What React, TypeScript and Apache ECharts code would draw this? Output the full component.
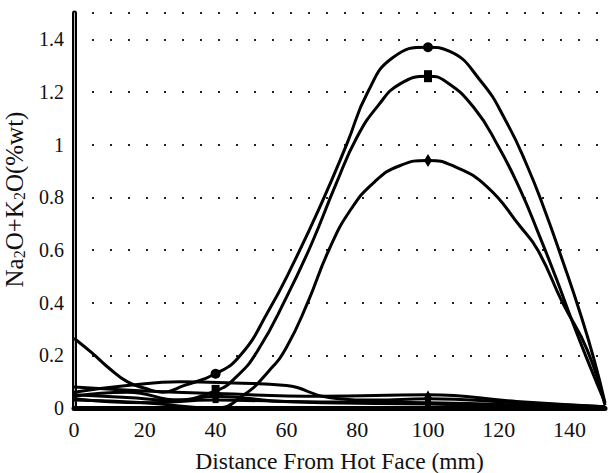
import React, { useEffect, useRef } from "react";
import * as echarts from "echarts";

// X positions (mm) and Na2O+K2O (%wt) values
const c1X = [0, 5, 10, 15, 20, 25, 31, 40, 47, 55, 62, 70, 77, 83, 90, 100, 106, 115, 122, 128, 133, 138, 143, 147, 150];
const c1Y = [0.265, 0.21, 0.15, 0.1, 0.075, 0.06, 0.085, 0.13, 0.2, 0.37, 0.55, 0.78, 1.0, 1.2, 1.33, 1.37, 1.355, 1.24, 1.09, 0.92, 0.75, 0.56, 0.36, 0.18, 0.02];

const c2X = [0, 15, 28, 40, 46, 52, 60, 67, 74, 80, 86, 92, 100, 105, 113, 120, 126, 131, 136, 141, 146, 150];
const c2Y = [0.05, 0.04, 0.03, 0.065, 0.12, 0.22, 0.42, 0.62, 0.85, 1.03, 1.15, 1.23, 1.26, 1.24, 1.14, 0.99, 0.83, 0.67, 0.5, 0.32, 0.15, 0.02];

const c3X = [0, 20, 40, 48, 55, 60, 66, 72, 78, 85, 92, 100, 107, 116.7, 126, 131, 138, 145, 150];
const c3Y = [0.03, 0.02, 0.0, 0.05, 0.14, 0.23, 0.4, 0.6, 0.75, 0.86, 0.92, 0.94, 0.92, 0.84, 0.69, 0.6, 0.4, 0.22, 0.01];

const hX = [0, 15, 30, 45, 60, 72, 85, 100, 125, 150];
const hY = [0.06, 0.085, 0.1, 0.095, 0.085, 0.04, 0.03, 0.035, 0.02, 0.005];

const l4X = [0, 20, 40, 70, 100, 125, 150];
const l4Y = [0.08, 0.065, 0.055, 0.045, 0.05, 0.025, 0.005];

const l5X = [0, 20, 40, 70, 100, 150];
const l5Y = [0.035, 0.02, 0.03, 0.02, 0.015, 0.0];

const l6X = [0, 15, 30, 40, 60, 100, 150];
const l6Y = [0.045, 0.06, 0.03, 0.045, 0.025, 0.02, 0.0];

const markedBoth = [40, 100];
const markedPeak = [100];

const seriesDefs = [
  { name: "S1", xs: c1X, ys: c1Y, symbol: "circle", size: 10, marked: markedBoth },
  { name: "S2", xs: c2X, ys: c2Y, symbol: "rect", size: [8, 12], marked: markedBoth },
  { name: "S3", xs: c3X, ys: c3Y, symbol: "diamond", size: [8, 13], marked: markedPeak },
  { name: "S4", xs: hX, ys: hY, symbol: "rect", size: 6, marked: markedBoth },
  { name: "S5", xs: l4X, ys: l4Y, symbol: "triangle", size: 9, marked: markedBoth },
  { name: "S6", xs: l5X, ys: l5Y, symbol: "rect", size: 6, marked: markedBoth },
  { name: "S7", xs: l6X, ys: l6Y, symbol: "rect", size: 6, marked: markedBoth },
];

const FONT = "Liberation Serif";

export default function App() {
  const ref = useRef<HTMLDivElement>(null);
  useEffect(() => {
    if (!ref.current) return;
    const chart = echarts.init(ref.current, null, { renderer: "svg" });
    const series = seriesDefs.map((s) => ({
      name: s.name,
      type: "line",
      smooth: 0.5,
      clip: true,
      symbolSize: s.size,
      lineStyle: { color: "#000", width: 3 },
      itemStyle: { color: "#000" },
      data: s.xs.map((x, i) => ({
        value: [x, s.ys[i]],
        symbol: s.marked.includes(x) ? s.symbol : "none",
      })),
    }));
    chart.setOption({
      animation: false,
      backgroundColor: "#fff",
      textStyle: { fontFamily: FONT },
      grid: { left: 74, right: 3, top: 13, bottom: 65, containLabel: false, outerBoundsMode: "none" },
      xAxis: [
        {
          type: "value",
          min: 0,
          max: 150,
          interval: 20,
          name: "Distance From Hot Face (mm)",
          nameLocation: "middle",
          nameGap: 41,
          nameTextStyle: { fontFamily: FONT, fontSize: 23.5, color: "#111" },
          axisLine: { show: true, onZero: false, lineStyle: { color: "#000", width: 5 } },
          axisTick: { show: false },
          axisLabel: { fontFamily: FONT, fontSize: 22, color: "#111", margin: 10, showMaxLabel: false },
          splitLine: { show: false },
        },
        {
          type: "value",
          position: "top",
          min: 0,
          max: 150,
          axisLine: { show: true, lineStyle: { color: "#000", width: 3.5 } },
          axisTick: { show: false },
          axisLabel: { show: false },
          splitLine: { show: false },
        },
      ],
      yAxis: [
        {
          type: "value",
          min: 0,
          max: 1.5,
          interval: 0.2,
          name: "{n|Na}{s|2}{n|O+K}{s|2}{n|O(%wt)}",
          nameLocation: "middle",
          nameGap: 47,
          nameTextStyle: {
            fontFamily: FONT,
            color: "#111",
            padding: [0, 0, 0, 22],
            rich: {
              n: { fontFamily: FONT, fontSize: 25, color: "#111" },
              s: { fontFamily: FONT, fontSize: 16, color: "#111", padding: [10, 0, 0, 0] },
            },
          },
          axisLine: { show: true, onZero: false, lineStyle: { color: "#000", width: 5 } },
          axisTick: { show: false },
          axisLabel: {
            fontFamily: FONT,
            fontSize: 20,
            color: "#111",
            margin: 10,
            showMaxLabel: false,
            formatter: (v: number) => String(Math.round(v * 10) / 10),
          },
          splitLine: {
            show: true,
            lineStyle: { color: "#222", width: 2, type: [2, 16] },
          },
        },
        {
          type: "value",
          position: "right",
          min: 0,
          max: 1.5,
          axisLine: { show: true, lineStyle: { color: "#bbb", width: 1 } },
          axisTick: { show: false },
          axisLabel: { show: false },
          splitLine: { show: false },
        },
      ],
      series,
    });
    return () => chart.dispose();
  }, []);
  return (
    <div
      ref={ref}
      style={{ position: "fixed", left: 0, top: 0, width: 608, height: 473, background: "#fff" }}
    />
  );
}
